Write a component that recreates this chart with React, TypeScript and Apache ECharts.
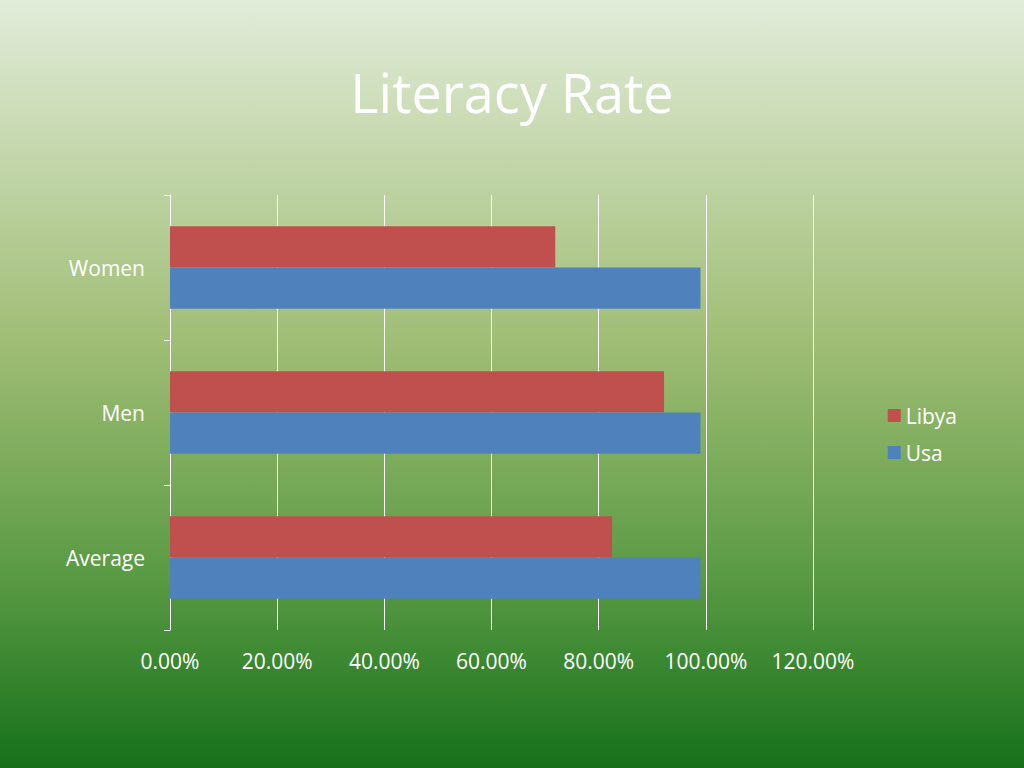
import React, { useEffect, useRef } from 'react';
import * as echarts from 'echarts';

const categories = ['Average', 'Men', 'Women'];
const usa = [0.99, 0.99, 0.99];
const libya = [0.825, 0.922, 0.719];
const seriesNames = ['Libya', 'Usa'];

const App: React.FC = () => {
  const ref = useRef<HTMLDivElement>(null);

  useEffect(() => {
    if (!ref.current) return;
    const chart = echarts.init(ref.current, undefined, { renderer: 'svg' });
    const font = 'Open Sans';
    chart.setOption({
      animation: false,
      backgroundColor: new echarts.graphic.LinearGradient(0, 0, 0, 1, [
        { offset: 0, color: '#e2ecd9' },
        { offset: 0.45, color: '#9fbd74' },
        { offset: 0.75, color: '#5a9a44' },
        { offset: 1, color: '#16701a' },
      ]),
      title: {
        text: 'Literacy Rate',
        left: 'center',
        top: 60,
        textStyle: { color: '#fff', fontSize: 54, fontWeight: 'normal', fontFamily: font },
      },
      legend: {
        data: seriesNames,
        orient: 'vertical',
        right: 62,
        top: 400,
        itemWidth: 13,
        itemHeight: 13,
        itemGap: 16,
        icon: 'rect',
        textStyle: { color: '#fff', fontSize: 21, fontFamily: font },
      },
      grid: { left: 170, right: 211, top: 195, bottom: 138, containLabel: false },
      xAxis: {
        type: 'value',
        min: 0,
        max: 1.2,
        interval: 0.2,
        axisLabel: {
          color: '#fff',
          fontSize: 21,
          fontFamily: font,
          margin: 20,
          formatter: (v: number) => (v * 100).toFixed(2) + '%',
        },
        axisLine: { show: false },
        axisTick: { show: false },
        splitLine: { lineStyle: { color: '#fff', width: 1 } },
      },
      yAxis: {
        type: 'category',
        data: categories,
        axisLine: { show: true, lineStyle: { color: '#fff' } },
        axisTick: { show: true, length: 6, lineStyle: { color: '#fff' } },
        axisLabel: { color: '#fff', fontSize: 21, fontFamily: font, margin: 25 },
      },
      series: [
        {
          name: 'Libya',
          type: 'bar',
          data: libya,
          itemStyle: { color: '#c0504d' },
          barGap: '0%',
          barCategoryGap: '43%',
        },
        {
          name: 'Usa',
          type: 'bar',
          data: usa,
          itemStyle: { color: '#4f81bd' },
          barGap: '0%',
          barCategoryGap: '43%',
        },
      ],
    });
    return () => chart.dispose();
  }, []);

  return <div ref={ref} style={{ width: 1024, height: 768, position: 'fixed', left: 0, top: 0 }} />;
};

export default App;
